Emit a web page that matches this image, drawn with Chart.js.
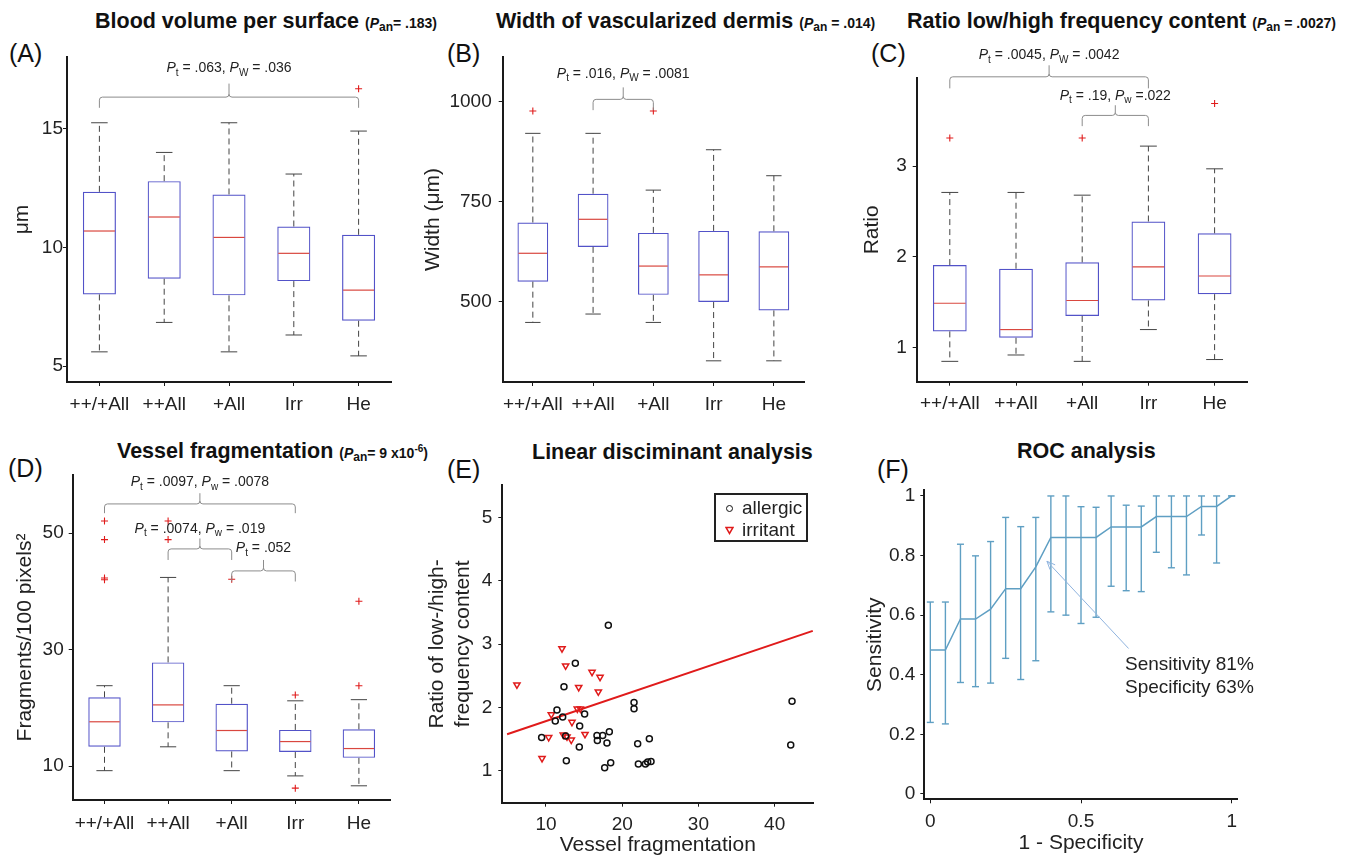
<!DOCTYPE html>
<html>
<head>
<meta charset="utf-8">
<script src="https://cdn.jsdelivr.net/npm/chart.js@4.4.1/dist/chart.umd.min.js"></script>
<style>
  body { margin: 0; background: #fff; width: 1358px; height: 858px; position: relative; overflow: hidden;
         font-family: "Liberation Sans", Arial, Helvetica, sans-serif; color: #222; }
  canvas { position: absolute; }
  .ttl { position: absolute; font-weight: bold; font-size: 21.5px; line-height: 26px; white-space: nowrap; color: #111; }
  .ttl .pv { font-size: 14px; }
  .ttl sub { font-size: 12px; vertical-align: -3px; line-height: 0; }
  .ttl sup { font-size: 10px; vertical-align: 6px; line-height: 0; }
  .lt { position: absolute; font-size: 25px; line-height: 30px; color: #111; }
  #legE { position: absolute; left: 714px; top: 493px; width: 94px; height: 49px; box-sizing: border-box;
          border: 2px solid #222; font-size: 19px; line-height: 22px; padding-top: 2px; }
  #legE div { position: relative; padding-left: 26px; height: 22px; }
  #legE .circ { position: absolute; left: 10px; top: 8px; width: 5px; height: 5px; border: 1.5px solid #111; border-radius: 50%; }
  #legE svg { position: absolute; left: 9px; top: 7px; }
</style>
</head>
<body>

<div class="ttl" style="left:95px;top:8px">Blood volume per surface <span class="pv">(<i>P</i><sub>an</sub>= .183)</span></div>
<div class="ttl" style="left:496px;top:8px">Width of vascularized dermis <span class="pv">(<i>P</i><sub>an</sub> = .014)</span></div>
<div class="ttl" style="left:907px;top:8px">Ratio low/high frequency content <span class="pv">(<i>P</i><sub>an</sub> = .0027)</span></div>
<div class="ttl" style="left:117px;top:438px">Vessel fragmentation <span class="pv">(<i>P</i><sub>an</sub>= 9 x10<sup>-6</sup>)</span></div>
<div class="ttl" style="left:532px;top:439px">Linear disciminant analysis</div>
<div class="ttl" style="left:1017px;top:438px">ROC analysis</div>

<div class="lt" style="left:9px;top:38px">(A)</div>
<div class="lt" style="left:447px;top:38px">(B)</div>
<div class="lt" style="left:871px;top:38px">(C)</div>
<div class="lt" style="left:8px;top:453px">(D)</div>
<div class="lt" style="left:447px;top:454px">(E)</div>
<div class="lt" style="left:877px;top:454px">(F)</div>

<canvas id="cA"></canvas>
<canvas id="cB"></canvas>
<canvas id="cC"></canvas>
<canvas id="cD"></canvas>
<canvas id="cE"></canvas>
<canvas id="cF"></canvas>

<div id="legE">
  <div><span class="circ"></span>allergic</div>
  <div><svg width="9" height="9"><polygon points="1,1.5 8,1.5 4.5,7.5" fill="none" stroke="#e01b1b" stroke-width="1.5"/></svg>irritant</div>
</div>

<script>
const FONT = '"Liberation Sans", Arial, Helvetica, sans-serif';
const INK = '#222';
const AXIS = '#1a1a1a';
const BOX = '#5252c8';
const MED = '#d9473f';
const RED = '#e01b1b';
const WHISK = '#444';
const BRACE = '#8c8c8c';
const ROC = '#5f9fc3';

const groups = ['++/+All', '++All', '+All', 'Irr', 'He'];

// (A) blood volume per surface
const bvLow  = [5.60, 6.84, 5.60, 6.31, 5.43];
const bvQ1   = [8.02, 8.68, 7.98, 8.58, 6.91];
const bvMed  = [10.69, 11.28, 10.42, 9.75, 8.20];
const bvQ3   = [12.34, 12.79, 12.23, 10.88, 10.53];
const bvHigh = [15.25, 14.00, 15.25, 13.09, 14.90];
const bvOut  = [[], [], [], [], [16.68]];
const bvTicks = [5, 10, 15];
const bvBrackets = [
  {from: 0, to: 4, y: 16.33, end: 15.88, peak: 16.9, textY: 17.54, text: 'P_t = .063, P_W = .036'}
];

// (B) width of vascularized dermis
const wdLow  = [448, 469, 448, 352, 352];
const wdQ1   = [550, 637, 517, 499, 478];
const wdMed  = [621, 706, 589, 567, 587];
const wdQ3   = [698, 770, 672, 677, 676];
const wdHigh = [921, 921, 779, 880, 815];
const wdOut  = [[977], [], [977], [], []];
const wdTicks = [500, 750, 1000];
const wdBrackets = [
  {from: 1, to: 2, y: 1006, end: 979, peak: 1036, textY: 1069, text: 'P_t = .016, P_W = .0081'}
];

// (C) ratio low/high frequency content
const rtLow  = [0.85, 0.92, 0.85, 1.20, 0.87];
const rtQ1   = [1.18, 1.11, 1.35, 1.52, 1.59];
const rtMed  = [1.49, 1.20, 1.52, 1.89, 1.79];
const rtQ3   = [1.91, 1.87, 1.94, 2.39, 2.26];
const rtHigh = [2.71, 2.71, 2.68, 3.22, 2.97];
const rtOut  = [[3.31], [], [3.31], [], [3.69]];
const rtTicks = [1, 2, 3];
const rtBrackets = [
  {from: 0, to: 3, y: 3.983, end: 3.856, peak: 4.11, textY: 4.22, text: 'P_t = .0045, P_W = .0042'},
  {from: 2, to: 3, y: 3.558, end: 3.44, peak: 3.67, textY: 3.77, text: 'P_t = .19, P_w =.022'}
];

// (D) vessel fragmentation
const frLow  = [9.2, 13.3, 9.2, 8.3, 6.6];
const frQ1   = [13.3, 17.5, 12.5, 12.4, 11.4];
const frMed  = [17.6, 20.5, 16.1, 14.2, 13.0];
const frQ3   = [21.8, 27.8, 20.7, 16.2, 16.3];
const frHigh = [23.8, 42.4, 23.8, 21.2, 21.4];
const frOut  = [[52.1, 48.9, 42.3, 42.0], [52.1, 48.9], [42.1], [22.2, 6.2], [38.3, 23.8]];
const frTicks = [10, 30, 50];
const frBrackets = [
  {from: 0, to: 3, y: 55.03, end: 53.44, peak: 56.87, textY: 58.7, text: 'P_t = .0097, P_w = .0078'},
  {from: 1, to: 2, y: 47.3, end: 45.4, peak: 49.1, textY: 50.7, text: 'P_t = .0074, P_w = .019'},
  {from: 2, to: 3, y: 43.52, end: 41.7, peak: 45.4, textY: 47.4, text: 'P_t = .052'}
];

// (E) linear discriminant analysis
const allergicX = [18.18, 13.85, 12.36, 11.44, 12.19, 11.22, 15.07, 14.42, 14.37, 12.67, 9.43, 12.58, 16.69, 16.74, 17.44,
                   18.31, 18.0, 17.70, 18.49, 21.55, 21.55, 22.03, 23.56, 22.12, 23.04, 23.34, 23.78, 42.28, 42.11];
const allergicY = [3.30, 2.70, 2.33, 1.96, 1.85, 1.79, 1.90, 1.71, 1.38, 1.16, 1.53, 1.55, 1.56, 1.48, 1.56,
                   1.62, 1.44, 1.05, 1.13, 2.08, 1.98, 1.43, 1.51, 1.11, 1.11, 1.14, 1.15, 2.10, 1.41];
const irritantX = [6.19, 12.10, 12.58, 16.04, 17.09, 14.29, 16.87, 10.70, 14.11, 14.51, 13.41, 10.35, 12.27, 12.76, 13.32, 15.12, 9.48];
const irritantY = [2.36, 2.93, 2.66, 2.56, 2.48, 2.32, 2.25, 1.89, 1.98, 1.98, 1.77, 1.53, 1.57, 1.54, 1.49, 1.58, 1.20];
const ldaLineX = [4.9, 45];
const ldaLineY = [1.58, 3.21];
const ldaXTicks = [10, 20, 30, 40];
const ldaYTicks = [1, 2, 3, 4, 5];

// (F) ROC analysis
const rocFpr = [0, 0.05, 0.1, 0.15, 0.2, 0.25, 0.3, 0.35, 0.4, 0.45, 0.5, 0.55, 0.6, 0.65, 0.7, 0.75, 0.8, 0.85, 0.9, 0.95, 1];
const rocTpr = [0.483, 0.483, 0.587, 0.587, 0.620, 0.689, 0.689, 0.762, 0.861, 0.861, 0.861, 0.861, 0.896, 0.896, 0.896,
                0.931, 0.931, 0.931, 0.965, 0.965, 1.0];
const rocHi  = [0.644, 0.644, 0.838, 0.799, 0.847, 0.928, 0.897, 0.928, 1.0, 1.0, 0.964, 0.962, 1.0, 0.969, 0.966,
                1.0, 1.0, 1.0, 1.0, 1.0, 1.0];
const rocLo  = [0.240, 0.235, 0.374, 0.360, 0.372, 0.455, 0.384, 0.447, 0.611, 0.600, 0.572, 0.593, 0.697, 0.682, 0.679,
                0.811, 0.759, 0.735, 0.869, 0.775, 1.0];
const rocXTicks = [0, 0.5, 1];
const rocYTicks = [0, 0.2, 0.4, 0.6, 0.8, 1];
const rocArrow = {fromX: 0.658, fromY: 0.488, toX: 0.387, toY: 0.781};
const rocNote = ['Sensitivity 81%', 'Specificity 63%'];
const rocNoteX = 0.646;
const rocNoteY = [0.432, 0.355];


function place(id, left, top, w, h) {
  const c = document.getElementById(id);
  c.width = w; c.height = h;
  c.style.left = left + 'px'; c.style.top = top + 'px';
  return c;
}

function seg(ctx, x1, y1, x2, y2) {
  ctx.beginPath(); ctx.moveTo(x1, y1); ctx.lineTo(x2, y2); ctx.stroke();
}

// text like "P_t = .063" -> italic P with small subscript
function drawRich(ctx, str, cx, cy, size) {
  const norm = size + 'px ' + FONT;
  const ital = 'italic ' + norm;
  const sub = Math.round(size * 0.7) + 'px ' + FONT;
  const pieces = [];
  str.split(/(P_\w+)/).filter(s => s).forEach(p => {
    if (p.startsWith('P_')) {
      pieces.push({t: 'P', f: ital, dy: 0});
      pieces.push({t: p.slice(2), f: sub, dy: size * 0.32});
    } else {
      pieces.push({t: p, f: norm, dy: 0});
    }
  });
  let total = 0;
  pieces.forEach(pc => { ctx.font = pc.f; pc.w = ctx.measureText(pc.t).width; total += pc.w; });
  let x = cx - total / 2;
  ctx.fillStyle = INK; ctx.textAlign = 'left'; ctx.textBaseline = 'middle';
  pieces.forEach(pc => { ctx.font = pc.f; ctx.fillText(pc.t, x, cy + pc.dy); x += pc.w; });
}

function yAxis(o) {
  return {
    type: 'linear', min: o.min, max: o.max,
    afterFit: s => { s.width = o.width; },
    afterBuildTicks: s => { s.ticks = o.ticks.map(v => ({value: v})); },
    border: {display: true, color: AXIS, width: 2},
    grid: {drawOnChartArea: false, tickLength: 4, color: AXIS},
    ticks: {font: {size: 19, family: FONT}, color: INK, padding: o.tickPad, autoSkip: false, callback: v => String(v)},
    title: {display: true, text: o.title, color: INK,
            font: {size: 21, family: FONT, lineHeight: o.lineHeight || 1.2},
            padding: {top: o.titlePad, bottom: 0}}
  };
}

function catAxis(height, pad) {
  return {
    type: 'category', offset: true,
    afterFit: s => { s.height = height; },
    border: {display: true, color: AXIS, width: 2},
    grid: {drawOnChartArea: false, offset: false, tickLength: 4, color: AXIS},
    ticks: {font: {size: 19, family: FONT}, color: INK, padding: pad, autoSkip: false, maxRotation: 0, minRotation: 0}
  };
}

function linXAxis(o) {
  return {
    type: 'linear', min: o.min, max: o.max,
    afterFit: s => { s.height = o.height; },
    afterBuildTicks: s => { s.ticks = o.ticks.map(v => ({value: v})); },
    border: {display: true, color: AXIS, width: 2},
    grid: {drawOnChartArea: false, tickLength: 4, color: AXIS},
    ticks: {font: {size: 19, family: FONT}, color: INK, padding: 7, autoSkip: false, maxRotation: 0, callback: v => String(v)},
    title: {display: true, text: o.title, color: INK, font: {size: 21, family: FONT}, padding: {top: 0, bottom: o.titlePad}}
  };
}

function boxDecor(b) {
  return {
    id: 'boxDecor',
    afterDatasetsDraw(chart) {
      const {ctx, scales: {x, y}} = chart;
      const bars = chart.getDatasetMeta(0).data;
      ctx.save();
      b.med.forEach((m, i) => {
        const px = x.getPixelForValue(i);
        const w = bars[i].width;
        const yHi = y.getPixelForValue(b.high[i]), yLo = y.getPixelForValue(b.low[i]);
        const yQ3 = y.getPixelForValue(b.q3[i]), yQ1 = y.getPixelForValue(b.q1[i]);
        ctx.strokeStyle = WHISK; ctx.lineWidth = 1;
        ctx.setLineDash([6, 4]);
        seg(ctx, px, yQ3, px, yHi);
        seg(ctx, px, yQ1, px, yLo);
        ctx.setLineDash([]);
        seg(ctx, px - w / 4, yHi, px + w / 4, yHi);
        seg(ctx, px - w / 4, yLo, px + w / 4, yLo);
        ctx.strokeStyle = MED; ctx.lineWidth = 1.2;
        const ym = y.getPixelForValue(m);
        seg(ctx, px - w / 2 + 1, ym, px + w / 2 - 1, ym);
      });
      // significance braces
      b.brackets.forEach(k => {
        const x1 = x.getPixelForValue(k.from), x2 = x.getPixelForValue(k.to), xm = (x1 + x2) / 2;
        const yl = y.getPixelForValue(k.y), ye = y.getPixelForValue(k.end), yp = y.getPixelForValue(k.peak);
        const r = 3;
        ctx.strokeStyle = BRACE; ctx.lineWidth = 1;
        ctx.beginPath();
        ctx.moveTo(x1, ye); ctx.lineTo(x1, yl + r); ctx.quadraticCurveTo(x1, yl, x1 + r, yl);
        ctx.lineTo(xm - r, yl); ctx.quadraticCurveTo(xm, yl, xm, yl - r); ctx.lineTo(xm, yp);
        ctx.moveTo(xm, yl - r); ctx.quadraticCurveTo(xm, yl, xm + r, yl);
        ctx.lineTo(x2 - r, yl); ctx.quadraticCurveTo(x2, yl, x2, yl + r); ctx.lineTo(x2, ye);
        ctx.stroke();
        drawRich(ctx, k.text, xm, y.getPixelForValue(k.textY), 14);
      });
      ctx.restore();
    }
  };
}

function boxChart(canvas, b, ax) {
  const outPts = [];
  b.out.forEach((vals, i) => vals.forEach(v => outPts.push({x: groups[i], y: v})));
  return new Chart(canvas, {
    type: 'bar',
    data: {
      labels: groups,
      datasets: [
        {data: b.q1.map((v, i) => [v, b.q3[i]]), backgroundColor: 'rgba(0,0,0,0)', borderColor: BOX,
         borderWidth: 1.2, borderSkipped: false, barPercentage: 0.51, categoryPercentage: 1},
        {type: 'scatter', data: outPts, pointStyle: 'cross', pointRadius: 3.5,
         pointBorderColor: RED, pointBorderWidth: 1.1}
      ]
    },
    options: {
      responsive: false, animation: false, events: [],
      layout: {padding: {top: ax.padTop, right: ax.padRight, left: 0, bottom: 0}},
      plugins: {legend: {display: false}, tooltip: {enabled: false}},
      scales: {
        x: catAxis(ax.xHeight, ax.xPad),
        y: yAxis({min: ax.min, max: ax.max, ticks: b.ticks, width: ax.yWidth, tickPad: ax.tickPad,
                  title: ax.title, titlePad: ax.titlePad})
      }
    },
    plugins: [boxDecor(b)]
  });
}

// (A)
boxChart(place('cA', 0, 30, 415, 390),
  {low: bvLow, q1: bvQ1, med: bvMed, q3: bvQ3, high: bvHigh, out: bvOut, ticks: bvTicks, brackets: bvBrackets},
  {padTop: 27, padRight: 24, xHeight: 38, xPad: 7, min: 4.33, max: 18.02, yWidth: 67, tickPad: 0,
   title: 'μm', titlePad: 9.4});

// (B)
boxChart(place('cB', 415, 30, 435, 390),
  {low: wdLow, q1: wdQ1, med: wdMed, q3: wdQ3, high: wdHigh, out: wdOut, ticks: wdTicks, brackets: wdBrackets},
  {padTop: 27, padRight: 46, xHeight: 38, xPad: 7, min: 299, max: 1112, yWidth: 87.7, tickPad: 7,
   title: 'Width (μm)', titlePad: 5.4});

// (C)
boxChart(place('cC', 855, 30, 503, 390),
  {low: rtLow, q1: rtQ1, med: rtMed, q3: rtQ3, high: rtHigh, out: rtOut, ticks: rtTicks, brackets: rtBrackets},
  {padTop: 48, padRight: 110.3, xHeight: 38.3, xPad: 7, min: 0.626, max: 3.97, yWidth: 61.7, tickPad: 6,
   title: 'Ratio', titlePad: 4.4});

// (D)
boxChart(place('cD', 0, 455, 415, 390),
  {low: frLow, q1: frQ1, med: frMed, q3: frQ3, high: frHigh, out: frOut, ticks: frTicks, brackets: frBrackets},
  {padTop: 20, padRight: 24.3, xHeight: 45, xPad: 8, min: 4.16, max: 60.0, yWidth: 72.7, tickPad: 5,
   title: 'Fragments/100 pixels²', titlePad: 12.4});

// (E)
new Chart(place('cE', 415, 455, 440, 403), {
  type: 'scatter',
  data: {
    datasets: [
      {label: 'allergic', data: allergicX.map((v, i) => ({x: v, y: allergicY[i]})),
       pointStyle: 'circle', pointRadius: 3, pointBorderColor: '#111', pointBackgroundColor: 'rgba(0,0,0,0)', pointBorderWidth: 1.5},
      {label: 'irritant', data: irritantX.map((v, i) => ({x: v, y: irritantY[i]})),
       pointStyle: 'triangle', pointRotation: 180, pointRadius: 3.6, pointBorderColor: RED,
       pointBackgroundColor: 'rgba(0,0,0,0)', pointBorderWidth: 1.5},
      {type: 'line', label: 'LDA', data: ldaLineX.map((v, i) => ({x: v, y: ldaLineY[i]})),
       borderColor: RED, borderWidth: 2, pointRadius: 0, fill: false}
    ]
  },
  options: {
    responsive: false, animation: false, events: [],
    layout: {padding: {top: 30, right: 41.7, left: 0, bottom: 0}},
    plugins: {legend: {display: false}, tooltip: {enabled: false}},
    scales: {
      x: linXAxis({min: 4.27, max: 45.07, ticks: ldaXTicks, height: 55.3, title: 'Vessel fragmentation', titlePad: 0}),
      y: yAxis({min: 0.5, max: 5.51, ticks: ldaYTicks, width: 87.3, tickPad: 6,
                title: ['Ratio of low-/high-', 'frequency content'], titlePad: 9, lineHeight: 1.24})
    }
  }
});

// (F)
const rocDecor = {
  id: 'rocDecor',
  afterDatasetsDraw(chart) {
    const {ctx, scales: {x, y}} = chart;
    ctx.save();
    ctx.strokeStyle = ROC; ctx.lineWidth = 1.4;
    rocFpr.forEach((f, i) => {
      const px = x.getPixelForValue(f);
      const yh = y.getPixelForValue(rocHi[i]), yl = y.getPixelForValue(rocLo[i]);
      seg(ctx, px, yh, px, yl);
      seg(ctx, px - 3.5, yh, px + 3.5, yh);
      seg(ctx, px - 3.5, yl, px + 3.5, yl);
    });
    // arrow to the chosen operating point
    const ax1 = x.getPixelForValue(rocArrow.fromX), ay1 = y.getPixelForValue(rocArrow.fromY);
    const ax2 = x.getPixelForValue(rocArrow.toX), ay2 = y.getPixelForValue(rocArrow.toY);
    ctx.strokeStyle = '#8fb3de'; ctx.lineWidth = 1;
    seg(ctx, ax1, ay1, ax2, ay2);
    const ang = Math.atan2(ay1 - ay2, ax1 - ax2);
    [0.4, -0.4].forEach(d => seg(ctx, ax2, ay2, ax2 + 9 * Math.cos(ang + d), ay2 + 9 * Math.sin(ang + d)));
    ctx.fillStyle = INK; ctx.font = '19px ' + FONT; ctx.textAlign = 'left'; ctx.textBaseline = 'middle';
    rocNote.forEach((t, i) => ctx.fillText(t, x.getPixelForValue(rocNoteX), y.getPixelForValue(rocNoteY[i])));
    ctx.restore();
  }
};

new Chart(place('cF', 860, 455, 498, 403), {
  type: 'scatter',
  data: {
    datasets: [
      {label: 'ROC', data: rocFpr.map((v, i) => ({x: v, y: rocTpr[i]})), showLine: true,
       borderColor: ROC, borderWidth: 1.5, pointRadius: 0, fill: false}
    ]
  },
  options: {
    responsive: false, animation: false, events: [],
    layout: {padding: {top: 35, right: 120.3, left: 0, bottom: 0}},
    plugins: {legend: {display: false}, tooltip: {enabled: false}},
    scales: {
      x: linXAxis({min: -0.02, max: 1.02, ticks: rocXTicks, height: 58.7, title: '1 - Specificity', titlePad: 2.4}),
      y: yAxis({min: -0.018, max: 1.02, ticks: rocYTicks, width: 64.3, tickPad: 5,
                title: 'Sensitivity', titlePad: 2.4})
    }
  },
  plugins: [rocDecor]
});
</script>
</body>
</html>
